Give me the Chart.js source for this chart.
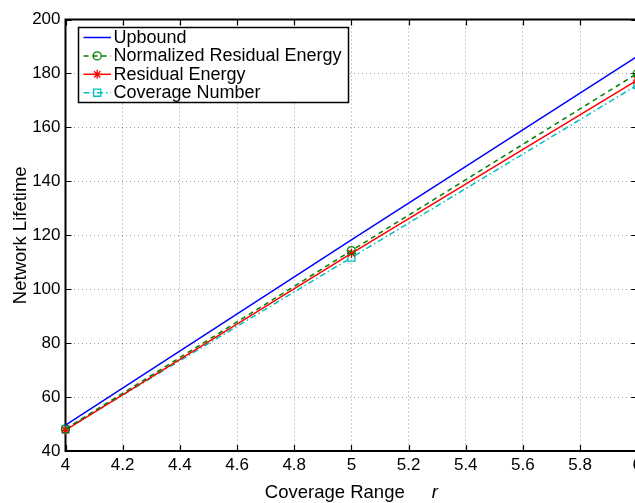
<!DOCTYPE html>
<html><head><meta charset="utf-8">
<script src="https://cdn.jsdelivr.net/npm/chart.js@4.4.1/dist/chart.umd.min.js"></script>
<style>html,body{margin:0;padding:0;overflow:hidden;background:#fff;width:635px;height:503px}canvas{display:block}</style>
</head><body>
<canvas id="c" width="646" height="503"></canvas>
<script>
// ---- data ----
const xValues = [4, 5, 6];
const upbound = [49.6, 118.3, 186.3];
const normalizedResidual = [48.2, 114.3, 180.0];
const residualEnergy = [47.7, 113.3, 177.5];
const coverageNumber = [48.0, 111.7, 175.7];
const seriesLabels = ['Upbound', 'Normalized Residual Energy', 'Residual Energy', 'Coverage Number'];
const xTicks = [4, 4.2, 4.4, 4.6, 4.8, 5, 5.2, 5.4, 5.6, 5.8, 6];
const yTicks = [40, 60, 80, 100, 120, 140, 160, 180, 200];
const xTitle = 'Coverage Range';
const xTitleVar = 'r';
const yTitle = 'Network Lifetime';

const FONT = "'Liberation Sans', Arial, Helvetica, sans-serif";
const pts = arr => xValues.map((x, i) => ({x: x, y: arr[i]}));

const seriesStyle = [
  {color: '#0000FF', dash: [], point: false},
  {color: '#008000', dash: [5, 4], point: 'circle', r: 4},
  {color: '#FF0000', dash: [], point: 'star', r: 4.5},
  {color: '#00BFBF', dash: [6, 3, 1.5, 3], point: 'rect', r: 5}
];
const seriesData = [upbound, normalizedResidual, residualEnergy, coverageNumber];

const datasets = seriesData.map((arr, i) => {
  const s = seriesStyle[i];
  return {
    label: seriesLabels[i],
    data: pts(arr),
    borderColor: s.color,
    backgroundColor: 'rgba(0,0,0,0)',
    borderWidth: 1.5,
    borderDash: s.dash,
    pointStyle: s.point || 'circle',
    pointRadius: s.point ? s.r : 0,
    pointBorderWidth: 1.3,
    pointBorderColor: s.color,
    pointBackgroundColor: 'rgba(0,0,0,0)',
    tension: 0,
    clip: false
  };
});

function drawMarker(ctx, style, x, y, r, color) {
  ctx.save();
  ctx.strokeStyle = color; ctx.lineWidth = 1.3; ctx.setLineDash([]);
  ctx.beginPath();
  if (style === 'circle') {
    ctx.arc(x, y, r, 0, Math.PI * 2);
  } else if (style === 'rect') {
    const s = Math.SQRT1_2 * r;
    ctx.rect(x - s, y - s, 2 * s, 2 * s);
  } else if (style === 'star') {
    const d = r * Math.SQRT1_2;
    ctx.moveTo(x - r, y); ctx.lineTo(x + r, y);
    ctx.moveTo(x, y - r); ctx.lineTo(x, y + r);
    ctx.moveTo(x - d, y - d); ctx.lineTo(x + d, y + d);
    ctx.moveTo(x - d, y + d); ctx.lineTo(x + d, y - d);
  }
  ctx.stroke();
  ctx.restore();
}

const decor = {
  id: 'decor',
  beforeDatasetsDraw(chart) {
    const {ctx, chartArea: a, scales: {x, y}} = chart;
    ctx.save();
    ctx.strokeStyle = '#000';
    ctx.lineWidth = 2;
    ctx.setLineDash([]);
    ctx.strokeRect(a.left, a.top, a.right - a.left, a.bottom - a.top);
    ctx.lineWidth = 1.2;
    ctx.beginPath();
    xTicks.forEach(v => {
      const px = Math.round(x.getPixelForValue(v)) + 0.5;
      ctx.moveTo(px, a.bottom); ctx.lineTo(px, a.bottom - 6);
      ctx.moveTo(px, a.top); ctx.lineTo(px, a.top + 6);
    });
    yTicks.forEach(v => {
      const py = Math.round(y.getPixelForValue(v)) + 0.5;
      ctx.moveTo(a.left, py); ctx.lineTo(a.left + 6, py);
      ctx.moveTo(a.right, py); ctx.lineTo(a.right - 6, py);
    });
    ctx.stroke();
    ctx.restore();
  },
  afterDraw(chart) {
    const {ctx, chartArea: a} = chart;
    ctx.save();
    // legend box
    const lx = 78.5, ly = 27.5, lw = 270, lh = 75;
    ctx.fillStyle = '#fff';
    ctx.fillRect(lx, ly, lw, lh);
    ctx.strokeStyle = '#000'; ctx.lineWidth = 1.5;
    ctx.strokeRect(lx, ly, lw, lh);
    ctx.font = '18px ' + FONT;
    ctx.textBaseline = 'middle';
    ctx.textAlign = 'left';
    chart.data.datasets.forEach((ds, i) => {
      const s = seriesStyle[i];
      const yy = 37.5 + i * 18.4;
      ctx.strokeStyle = s.color; ctx.lineWidth = 1.5;
      ctx.setLineDash(s.dash);
      ctx.beginPath(); ctx.moveTo(83.5, yy); ctx.lineTo(111, yy); ctx.stroke();
      ctx.setLineDash([]);
      if (s.point) drawMarker(ctx, s.point, 97.2, yy, s.r, s.color);
      ctx.fillStyle = '#000';
      ctx.fillText(ds.label, 113.5, yy + 0.5);
    });
    // x title
    ctx.font = '18.5px ' + FONT;
    ctx.textBaseline = 'alphabetic';
    const w1 = ctx.measureText(xTitle).width;
    ctx.font = 'italic 18.5px ' + FONT;
    const w2 = ctx.measureText(xTitleVar).width;
    const gap = 27;
    const cx = (a.left + a.right) / 2;
    const start = cx - (w1 + gap + w2) / 2;
    ctx.fillStyle = '#000';
    ctx.font = '18.5px ' + FONT;
    ctx.fillText(xTitle, start, 498);
    ctx.font = 'italic 18.5px ' + FONT;
    ctx.fillText(xTitleVar, start + w1 + gap, 498);
    // y title
    ctx.font = '18.5px ' + FONT;
    ctx.translate(25.5, (a.top + a.bottom) / 2);
    ctx.rotate(-Math.PI / 2);
    ctx.textAlign = 'center';
    ctx.fillText(yTitle, 0, 0);
    ctx.restore();
  }
};

const GRID = 'rgba(0,0,0,0.38)';

new Chart(document.getElementById('c'), {
  type: 'line',
  data: {datasets},
  options: {
    responsive: false,
    animation: false,
    devicePixelRatio: 1,
    layout: {padding: {top: 19.5, right: 0, left: 0, bottom: 0}},
    plugins: {legend: {display: false}, tooltip: {enabled: false}, title: {display: false}},
    scales: {
      x: {
        type: 'linear', min: 4, max: 6,
        afterBuildTicks: s => { s.ticks = xTicks.map(v => ({value: v})); },
        afterFit: s => { s.height = 52; },
        ticks: {autoSkip: false, maxRotation: 0, padding: 4, color: '#000', font: {family: FONT, size: 17},
                callback: v => String(v)},
        grid: {drawTicks: false, color: c => (c.tick && (c.tick.value === 4 || c.tick.value === 6)) ? 'rgba(0,0,0,0)' : GRID, lineWidth: 1},
        border: {display: false, dash: [1, 3]}
      },
      y: {
        type: 'linear', min: 40, max: 200,
        afterBuildTicks: s => { s.ticks = yTicks.map(v => ({value: v})); },
        afterFit: s => { s.width = 65.5; },
        ticks: {padding: 5, color: '#000', font: {family: FONT, size: 17}, callback: v => String(v)},
        grid: {drawTicks: false, color: c => (c.tick && (c.tick.value === 40 || c.tick.value === 200)) ? 'rgba(0,0,0,0)' : GRID, lineWidth: 1},
        border: {display: false, dash: [1, 3]}
      }
    }
  },
  plugins: [decor]
});
</script>
</body></html>
